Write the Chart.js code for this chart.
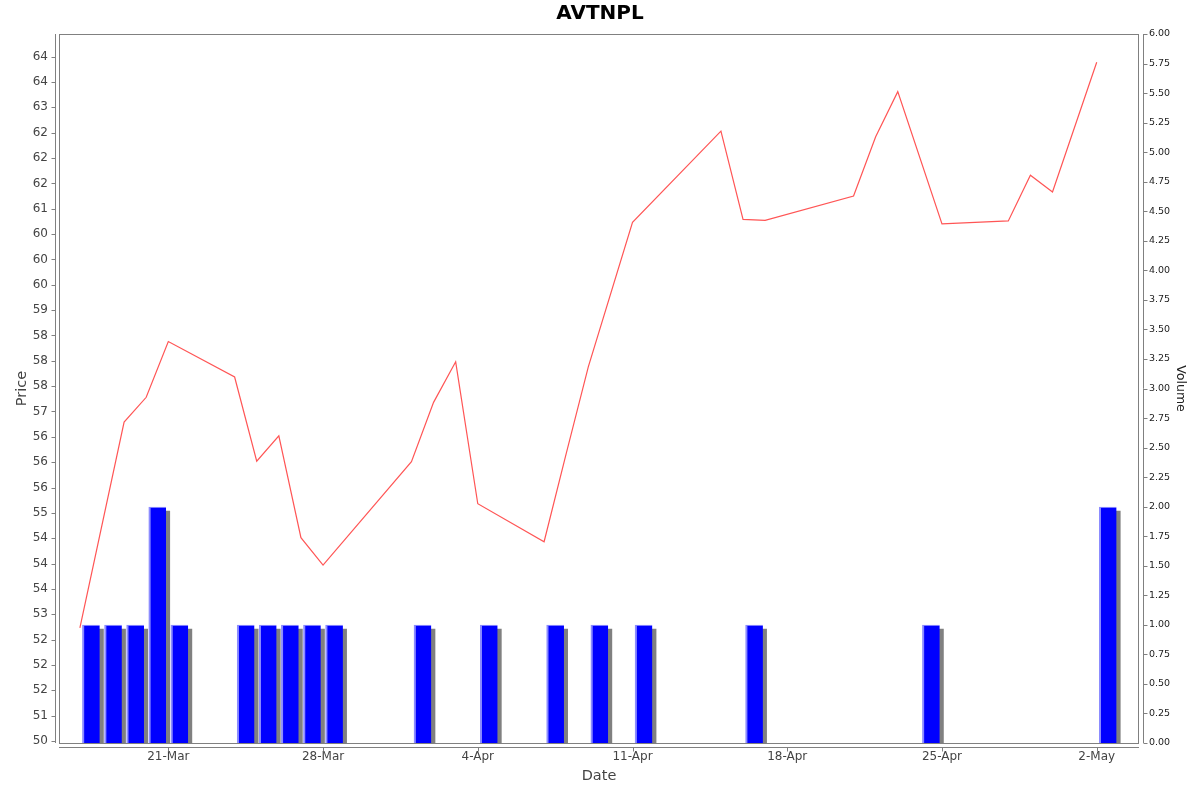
<!DOCTYPE html>
<html>
<head>
<meta charset="utf-8">
<script src="https://cdn.jsdelivr.net/npm/chart.js@4"></script>
<style>
  html, body { margin: 0; padding: 0; background: #fff; }
  #chart { display: block; }
</style>
</head>
<body>
<canvas id="chart" width="1200" height="792"></canvas>
<script>
// price series (MM-DD)
const priceDates = ['03-17','03-19','03-20','03-21','03-24','03-25','03-26','03-27','03-28',
  '04-01','04-02','04-03','04-04','04-07','04-08','04-09','04-11','04-15','04-16','04-17',
  '04-21','04-22','04-23','04-25','04-28','04-29','04-30','05-02'];
const priceValues = [52.73, 56.79, 57.28, 58.38, 57.68, 56.02, 56.52, 54.51, 53.97,
  56.01, 57.18, 57.98, 55.18, 54.43, 56.17, 57.88, 60.73, 62.53, 60.79, 60.77,
  61.25, 62.42, 63.31, 60.70, 60.76, 61.66, 61.33, 63.89];

// volume series
const volumeDates = ['03-17','03-18','03-19','03-20','03-21','03-24','03-25','03-26','03-27','03-28',
  '04-01','04-04','04-07','04-09','04-11','04-16','04-24','05-02'];
const volumeValues = [1, 1, 1, 2, 1, 1, 1, 1, 1, 1, 1, 1, 1, 1, 1, 1, 1, 2];

// axis ticks
const dateTicks = ['03-21','03-28','04-04','04-11','04-18','04-25','05-02'];
const priceTicks = [50.5, 51, 51.5, 52, 52.5, 53, 53.5, 54, 54.5, 55, 55.5, 56, 56.5, 57,
  57.5, 58, 58.5, 59, 59.5, 60, 60.5, 61, 61.5, 62, 62.5, 63, 63.5, 64];
const priceTickLabels = ['50','51','52','52','52','53','54','54','54','55','56','56','56','57',
  '58','58','58','59','60','60','60','61','62','62','62','63','64','64'];
const months = ['Jan','Feb','Mar','Apr','May','Jun','Jul','Aug','Sep','Oct','Nov','Dec'];

function dayNum(s) {
  const [m, d] = s.split('-').map(Number);
  return Date.UTC(2023, m - 1, d) / 86400000;
}
function dayLabel(v) {
  const dt = new Date(Math.round(v) * 86400000);
  return dt.getUTCDate() + '-' + months[dt.getUTCMonth()];
}

const xMin = dayNum('03-16') + 0.055;
const xMax = dayNum('05-03') + 0.913;
const shadowDx = 0.181;   // ~4px
const shadowDy = 0.034;   // ~4px

const priceData = priceDates.map((d, i) => ({ x: dayNum(d), y: priceValues[i] }));
const volumeData = volumeDates.map((d, i) => ({ x: dayNum(d), y: volumeValues[i] }));

const frame = {
  id: 'frame',
  beforeDraw(chart) {
    const c = chart.ctx;
    c.save();
    c.fillStyle = '#fff';
    c.fillRect(0, 0, chart.width, chart.height);
    c.restore();
  },
  afterDraw(chart) {
    const c = chart.ctx;
    const a = chart.chartArea;
    c.save();
    c.strokeStyle = '#808080';
    c.lineWidth = 1;
    c.strokeRect(Math.round(a.left) + 0.5, Math.round(a.top) + 0.5,
      Math.round(a.right - a.left) - 1, Math.round(a.bottom - a.top));

    // offset axis lines + tick marks
    const lx = Math.round(a.left) - 4 + 0.5;
    const rx = Math.round(a.right) + 4 + 0.5;
    const by = Math.round(a.bottom) + 4 + 0.5;
    c.beginPath();
    c.moveTo(lx, a.top); c.lineTo(lx, a.bottom);
    c.moveTo(rx, a.top); c.lineTo(rx, a.bottom);
    c.moveTo(a.left, by); c.lineTo(a.right, by);
    chart.scales.y.ticks.forEach(t => {
      const p = Math.round(chart.scales.y.getPixelForValue(t.value)) + 0.5;
      c.moveTo(lx, p); c.lineTo(lx - 4, p);
    });
    chart.scales.y2.ticks.forEach(t => {
      const p = Math.round(chart.scales.y2.getPixelForValue(t.value)) + 0.5;
      c.moveTo(rx, p); c.lineTo(rx + 4, p);
    });
    chart.scales.x.ticks.forEach(t => {
      const p = Math.round(chart.scales.x.getPixelForValue(t.value)) + 0.5;
      c.moveTo(p, by); c.lineTo(p, by + 4);
    });
    c.stroke();

    c.fillStyle = '#000';
    c.font = 'bold 20px "DejaVu Sans"';
    c.textAlign = 'center';
    c.textBaseline = 'middle';
    c.fillText('AVTNPL', chart.width / 2, 14);
    c.restore();
  }
};

new Chart(document.getElementById('chart'), {
  data: {
    datasets: [
      {
        type: 'line',
        label: 'Price',
        data: priceData,
        xAxisID: 'x',
        yAxisID: 'y',
        borderColor: '#ff5555',
        borderWidth: 1.2,
        pointRadius: 0,
        tension: 0,
        order: 0
      },
      {
        type: 'bar',
        label: 'Volume',
        data: volumeData,
        xAxisID: 'xb',
        yAxisID: 'y2',
        backgroundColor: '#0000ff',
        borderColor: '#8c8cff',
        borderWidth: { top: 1, left: 2, right: 0, bottom: 0 },
        borderSkipped: false,
        categoryPercentage: 1,
        barPercentage: 0.8,
        grouped: false,
        order: 1
      },
      {
        type: 'bar',
        label: 'shadow',
        data: volumeData,
        xAxisID: 'xs',
        yAxisID: 'ys',
        backgroundColor: '#808080',
        borderWidth: 0,
        categoryPercentage: 1,
        barPercentage: 0.8,
        grouped: false,
        clip: 0,
        order: 2
      }
    ]
  },
  options: {
    responsive: false,
    animation: false,
    devicePixelRatio: 1,
    layout: { padding: { top: 34, left: 0, right: 0, bottom: 0 } },
    plugins: {
      legend: { display: false },
      tooltip: { enabled: false },
      title: { display: false }
    },
    scales: {
      x: {
        type: 'linear',
        position: 'bottom',
        min: xMin,
        max: xMax,
        offset: false,
        afterFit: s => { s.height = 49; },
        afterBuildTicks: s => { s.ticks = dateTicks.map(d => ({ value: dayNum(d) })); },
        grid: { display: false, drawTicks: false },
        border: { display: false },
        ticks: {
          callback: v => dayLabel(v),
          maxRotation: 0,
          autoSkip: false,
          padding: 7,
          color: '#444',
          font: { family: 'DejaVu Sans', size: 12 }
        },
        title: {
          display: true,
          text: 'Date',
          color: '#444',
          padding: { top: 0, bottom: 7 },
          font: { family: 'DejaVu Sans', size: 14.5 }
        }
      },
      xb: {
        type: 'linear',
        display: false,
        offset: false,
        min: xMin - 0.5,
        max: xMax - 0.5
      },
      xs: {
        type: 'linear',
        display: false,
        offset: false,
        min: xMin - 0.5 - shadowDx,
        max: xMax - 0.5 - shadowDx
      },
      y: {
        type: 'linear',
        position: 'left',
        min: 50.46,
        max: 64.447,
        afterFit: s => { s.width = 59; },
        afterBuildTicks: s => { s.ticks = priceTicks.map(v => ({ value: v })); },
        grid: { display: false, drawTicks: false },
        border: { display: false },
        ticks: {
          callback: (v, i) => priceTickLabels[i],
          autoSkip: false,
          padding: 11,
          color: '#444',
          font: { family: 'DejaVu Sans', size: 12 }
        },
        title: {
          display: true,
          text: 'Price',
          color: '#444',
          padding: { top: 14, bottom: 0 },
          font: { family: 'DejaVu Sans', size: 14.5 }
        }
      },
      y2: {
        type: 'linear',
        position: 'right',
        min: 0,
        max: 6,
        afterFit: s => { s.width = 61; },
        grid: { display: false, drawTicks: false },
        border: { display: false },
        ticks: {
          stepSize: 0.25,
          callback: v => v.toFixed(2),
          autoSkip: false,
          padding: 10,
          color: '#222',
          font: { family: 'DejaVu Sans', size: 9.5 }
        },
        title: {
          display: true,
          text: 'Volume',
          color: '#222',
          padding: { top: 12, bottom: 0 },
          font: { family: 'DejaVu Sans', size: 12.5 }
        }
      },
      ys: {
        type: 'linear',
        display: false,
        min: shadowDy,
        max: 6 + shadowDy
      }
    }
  },
  plugins: [frame]
});
</script>
</body>
</html>
